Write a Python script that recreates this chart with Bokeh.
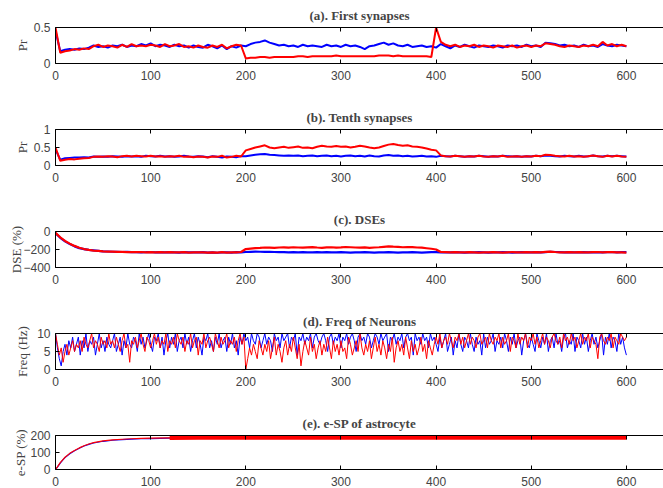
from bokeh.plotting import figure
from bokeh.layouts import column
from bokeh.models import Range1d, FixedTicker, LinearAxis, CustomLabelingPolicy
from bokeh.embed import file_html
from bokeh.resources import INLINE

# ---------------- data ----------------
t5 = list(range(0, 601, 5))
t2 = list(range(0, 601, 2))
x_ticks = [0, 100, 200, 300, 400, 500, 600]

pr1_blue = [
    0.45, 0.17, 0.19, 0.20, 0.19, 0.21, 0.20, 0.22, 0.25, 0.23,
    0.24, 0.22, 0.25, 0.24, 0.26, 0.23, 0.25, 0.24, 0.27, 0.25,
    0.28, 0.24, 0.26, 0.25, 0.23, 0.26, 0.24, 0.25, 0.22, 0.25,
    0.23, 0.22, 0.26, 0.24, 0.21, 0.25, 0.20, 0.24, 0.22, 0.25,
    0.24, 0.27, 0.29, 0.30, 0.32, 0.29, 0.27, 0.25, 0.26, 0.24,
    0.25, 0.23, 0.26, 0.24, 0.25, 0.24, 0.23, 0.26, 0.24, 0.25,
    0.23, 0.26, 0.24, 0.25, 0.23, 0.20, 0.24, 0.25, 0.27, 0.29,
    0.26, 0.28, 0.25, 0.24, 0.26, 0.23, 0.24, 0.25, 0.23, 0.24,
    0.22, 0.27, 0.24, 0.21, 0.25, 0.23, 0.26, 0.24, 0.22, 0.25,
    0.24, 0.23, 0.25, 0.24, 0.22, 0.25, 0.24, 0.25, 0.23, 0.26,
    0.24, 0.25, 0.23, 0.29, 0.28, 0.27, 0.25, 0.26, 0.24, 0.25,
    0.23, 0.26, 0.24, 0.25, 0.23, 0.27, 0.25, 0.24, 0.26, 0.25,
    0.24]
pr1_red = [
    0.50, 0.15, 0.17, 0.18, 0.20, 0.19, 0.21, 0.20, 0.24, 0.26,
    0.23, 0.25, 0.24, 0.22, 0.26, 0.23, 0.27, 0.24, 0.25, 0.24,
    0.26, 0.25, 0.23, 0.27, 0.24, 0.25, 0.27, 0.23, 0.24, 0.22,
    0.25, 0.23, 0.22, 0.25, 0.23, 0.26, 0.21, 0.24, 0.26, 0.25,
    0.07, 0.08, 0.08, 0.09, 0.09, 0.08, 0.09, 0.09, 0.09, 0.09,
    0.09, 0.10, 0.10, 0.09, 0.10, 0.10, 0.10, 0.10, 0.10, 0.11,
    0.10, 0.10, 0.10, 0.10, 0.10, 0.10, 0.10, 0.10, 0.11, 0.11,
    0.11, 0.10, 0.11, 0.10, 0.10, 0.10, 0.10, 0.10, 0.10, 0.09,
    0.50, 0.30, 0.26, 0.24, 0.26, 0.23, 0.25, 0.24, 0.26, 0.23,
    0.25, 0.24, 0.22, 0.25, 0.24, 0.23, 0.25, 0.22, 0.24, 0.25,
    0.23, 0.25, 0.24, 0.28, 0.27, 0.26, 0.24, 0.23, 0.25, 0.24,
    0.23, 0.25, 0.24, 0.26, 0.24, 0.30, 0.25, 0.27, 0.24, 0.26,
    0.24]

pr10_blue = [
    0.45, 0.16, 0.20, 0.21, 0.22, 0.22, 0.23, 0.22, 0.25, 0.24,
    0.25, 0.24, 0.26, 0.25, 0.24, 0.26, 0.25, 0.26, 0.24, 0.27,
    0.26, 0.25, 0.27, 0.25, 0.26, 0.24, 0.25, 0.27, 0.25, 0.24,
    0.26, 0.25, 0.23, 0.26, 0.24, 0.22, 0.25, 0.24, 0.23, 0.26,
    0.26, 0.28, 0.30, 0.31, 0.32, 0.30, 0.29, 0.28, 0.27, 0.28,
    0.27, 0.28, 0.26, 0.27, 0.28, 0.26, 0.27, 0.28, 0.26, 0.27,
    0.25, 0.27, 0.28, 0.26, 0.27, 0.25, 0.28, 0.26, 0.25, 0.28,
    0.29, 0.27, 0.28, 0.26, 0.27, 0.25, 0.26, 0.27, 0.25, 0.26,
    0.24, 0.27, 0.26, 0.25, 0.27, 0.26, 0.24, 0.26, 0.25, 0.27,
    0.26, 0.24, 0.26, 0.25, 0.27, 0.26, 0.25, 0.26, 0.24, 0.26,
    0.25, 0.27, 0.26, 0.28, 0.27, 0.26, 0.25, 0.27, 0.26, 0.25,
    0.27, 0.25, 0.26, 0.28, 0.26, 0.25, 0.27, 0.26, 0.27, 0.26,
    0.25]
pr10_red = [
    0.50, 0.13, 0.16, 0.18, 0.17, 0.19, 0.20, 0.21, 0.24, 0.25,
    0.24, 0.26, 0.25, 0.23, 0.26, 0.27, 0.25, 0.27, 0.26, 0.25,
    0.27, 0.25, 0.26, 0.24, 0.26, 0.25, 0.27, 0.24, 0.25, 0.23,
    0.25, 0.24, 0.22, 0.25, 0.24, 0.27, 0.22, 0.24, 0.27, 0.25,
    0.42, 0.46, 0.50, 0.53, 0.56, 0.50, 0.48, 0.50, 0.52, 0.49,
    0.51, 0.53, 0.49, 0.50, 0.48, 0.52, 0.55, 0.53, 0.52, 0.54,
    0.52, 0.53, 0.50, 0.52, 0.55, 0.53, 0.50, 0.48, 0.50, 0.54,
    0.58, 0.60, 0.57, 0.55, 0.56, 0.53, 0.52, 0.50, 0.47, 0.44,
    0.42, 0.28, 0.26, 0.25, 0.27, 0.26, 0.24, 0.26, 0.25, 0.27,
    0.25, 0.24, 0.26, 0.25, 0.27, 0.24, 0.25, 0.26, 0.24, 0.26,
    0.25, 0.27, 0.26, 0.30, 0.29, 0.27, 0.26, 0.25, 0.27, 0.25,
    0.26, 0.24, 0.26, 0.28, 0.26, 0.24, 0.27, 0.25, 0.27, 0.25,
    0.24]

dse_blue = [
    -20, -70, -110, -140, -165, -185, -195, -205, -210, -215,
    -220, -222, -225, -226, -228, -227, -230, -229, -231, -230,
    -228, -232, -230, -233, -229, -231, -234, -230, -232, -231,
    -233, -230, -234, -232, -236, -231, -233, -235, -230, -232,
    -228, -226, -224, -225, -227, -226, -228, -230, -229, -231,
    -230, -232, -229, -231, -233, -230, -232, -229, -231, -233,
    -230, -232, -234, -231, -233, -230, -232, -234, -231, -233,
    -230, -232, -235, -231, -233, -230, -232, -234, -231, -229,
    -230, -232, -231, -233, -230, -232, -234, -231, -233, -230,
    -232, -234, -231, -233, -230, -232, -234, -231, -230, -232,
    -231, -229, -233, -230, -225, -228, -230, -232, -229, -231,
    -233, -230, -232, -229, -231, -233, -230, -228, -231, -229,
    -230]
dse_red = [
    -15, -65, -105, -135, -160, -180, -195, -205, -212, -215,
    -220, -223, -224, -227, -226, -229, -228, -230, -228, -231,
    -229, -231, -230, -232, -230, -233, -231, -230, -234, -231,
    -232, -231, -235, -233, -234, -230, -235, -233, -231, -228,
    -195, -190, -185, -182, -178, -180, -183, -178, -176, -180,
    -175, -178, -180, -176, -174, -178, -181, -177, -175, -179,
    -176, -172, -175, -178, -180, -177, -182, -178, -175, -170,
    -165, -168, -170, -175, -172, -174, -178, -180, -186, -192,
    -200, -228, -230, -232, -229, -231, -233, -230, -232, -234,
    -231, -233, -230, -232, -234, -231, -229, -232, -233, -230,
    -232, -229, -231, -226, -224, -228, -231, -233, -230, -232,
    -229, -231, -233, -230, -228, -232, -230, -229, -233, -231,
    -235]

freq_blue = [
    10, 6, 3, 1, 5, 7, 4, 8, 6, 9,
    5, 7, 9, 4, 8, 6, 10, 5, 8, 7,
    9, 4, 7, 10, 6, 8, 5, 9, 7, 6,
    8, 10, 5, 7, 9, 4, 8, 6, 10, 7,
    6, 9, 8, 5, 10, 7, 9, 6, 8, 10,
    7, 5, 9, 8, 10, 6, 9, 4, 8, 10,
    6, 9, 7, 10, 5, 8, 9, 6, 10, 7,
    9, 5, 8, 10, 6, 9, 7, 4, 9, 8,
    10, 6, 8, 5, 9, 7, 10, 6, 8, 9,
    5, 9, 7, 10, 6, 8, 4, 9, 7, 10,
    8, 9, 6, 10, 8, 7, 10, 9, 6, 8,
    10, 7, 9, 8, 5, 10, 8, 9, 6, 10,
    8, 9, 10, 6, 9, 8, 10, 4, 9, 8,
    10, 7, 9, 8, 10, 6, 9, 10, 8, 7,
    9, 10, 8, 5, 9, 10, 7, 9, 8, 10,
    6, 9, 8, 10, 7, 9, 10, 8, 5, 9,
    10, 8, 9, 7, 10, 9, 6, 8, 10, 9,
    7, 10, 8, 9, 10, 5, 9, 8, 10, 7,
    9, 8, 10, 6, 9, 10, 8, 9, 4, 10,
    8, 9, 7, 10, 8, 9, 6, 10, 8, 9,
    7, 5, 9, 6, 8, 10, 5, 7, 9, 4,
    8, 6, 10, 7, 5, 9, 8, 6, 10, 7,
    5, 9, 7, 8, 4, 10, 6, 9, 7, 8,
    10, 5, 8, 7, 9, 6, 10, 8, 5, 9,
    7, 10, 6, 8, 9, 4, 8, 10, 7, 6,
    9, 7, 5, 10, 8, 6, 9, 7, 10, 5,
    8, 9, 6, 10, 7, 8, 5, 9, 10, 6,
    8, 7, 10, 5, 9, 8, 6, 10, 7, 9,
    5, 8, 10, 7, 9, 6, 8, 10, 4, 9,
    7, 10, 6, 9, 8, 5, 10, 7, 9, 6,
    4]
freq_red = [
    10, 7, 4, 6, 2, 5, 7, 4, 6, 8,
    5, 7, 6, 8, 5, 9, 7, 6, 8, 10,
    6, 8, 7, 5, 9, 7, 8, 6, 10, 7,
    8, 6, 9, 7, 5, 8, 10, 6, 7, 2,
    8, 7, 9, 6, 8, 10, 7, 5, 9, 8,
    6, 8, 10, 7, 9, 6, 8, 7, 10, 5,
    8, 7, 9, 6, 10, 8, 7, 9, 5, 8,
    7, 10, 6, 8, 9, 4, 8, 7, 10, 6,
    8, 9, 7, 5, 10, 8, 6, 9, 7, 8,
    10, 6, 8, 7, 9, 5, 8, 10, 7, 9,
    0, 3, 6, 4, 7, 5, 3, 8, 6, 4,
    7, 5, 8, 3, 6, 9, 4, 7, 5, 2,
    6, 8, 4, 7, 5, 9, 6, 3, 7, 1,
    5, 8, 6, 4, 9, 5, 7, 3, 6, 8,
    4, 7, 5, 9, 6, 3, 8, 5, 7, 4,
    8, 5, 6, 3, 9, 7, 4, 6, 8, 5,
    10, 6, 4, 7, 5, 8, 3, 6, 9, 5,
    7, 4, 8, 6, 3, 7, 5, 9, 2, 6,
    8, 5, 7, 4, 9, 6, 3, 8, 5, 7,
    4, 6, 9, 5, 7, 3, 8, 6, 4, 7,
    9, 7, 10, 6, 8, 9, 7, 10, 8, 6,
    9, 8, 10, 7, 9, 6, 8, 10, 7, 9,
    8, 6, 9, 10, 7, 8, 9, 6, 10, 8,
    7, 9, 8, 10, 6, 9, 7, 8, 10, 5,
    9, 8, 6, 10, 7, 9, 8, 10, 6, 9,
    8, 10, 7, 9, 6, 8, 10, 7, 9, 8,
    6, 9, 10, 8, 7, 9, 6, 10, 8, 9,
    7, 10, 8, 9, 6, 8, 10, 7, 9, 8,
    10, 6, 9, 8, 7, 3, 9, 10, 8, 7,
    9, 8, 10, 6, 9, 8, 7, 10, 9, 8,
    9]

t_esp = [0, 2, 5, 8, 10, 15, 20, 25, 30, 35, 40, 50, 60, 70, 80, 90, 100,
         120, 150, 200, 250, 300, 350, 400, 450, 500, 550, 600]
esp_blue = [0, 14, 38, 58, 70, 93, 110, 125, 138, 148, 156, 166, 172, 176,
            179, 181, 182, 184, 186, 186, 186, 186, 186, 186, 186, 186, 186, 186]
esp_red = [0, 15, 40, 60, 72, 95, 112, 127, 140, 150, 158, 168, 174, 178,
           181, 183, 184, 186, 187, 187, 187, 187, 187, 187, 187, 187, 187, 187]

BLUE = "#0000ff"
RED = "#ff0000"
SERIF = "Liberation Serif"
SANS = "Liberation Sans"

HIDE_LABELS = CustomLabelingPolicy(
    code="for (const i of Array.from(indices)) { indices.unset(i) }")


def make_panel(title, ylabel, yr, yticks, lab_standoff, height, bottom):
    p = figure(width=663, height=height, x_range=Range1d(0, 639),
               y_range=Range1d(*yr), output_backend="svg",
               toolbar_location=None, min_border_left=55,
               min_border_right=0, min_border_top=27,
               min_border_bottom=bottom, outline_line_color=None,
               background_fill_color="white", border_fill_color="white")
    p.grid.visible = False
    p.title.text = title
    p.title.align = "center"
    p.title.text_font = SERIF
    p.title.text_font_style = "bold"
    p.title.text_font_size = "13px"
    p.title.standoff = 10

    xa = p.xaxis[0]
    xa.ticker = FixedTicker(ticks=x_ticks)
    xa.major_tick_in = 4
    xa.major_tick_out = 0
    xa.minor_tick_line_color = None
    xa.major_label_standoff = 7
    xa.major_label_text_font = SANS
    xa.major_label_text_font_size = "12px"
    xa.axis_line_color = "black"

    ya = p.yaxis[0]
    ya.ticker = FixedTicker(ticks=yticks)
    ya.major_tick_in = 4
    ya.major_tick_out = 0
    ya.minor_tick_line_color = None
    ya.major_label_standoff = 5
    ya.major_label_text_font = SANS
    ya.major_label_text_font_size = "12px"
    ya.axis_label = ylabel
    ya.axis_label_text_font = SERIF
    ya.axis_label_text_font_style = "normal"
    ya.axis_label_text_font_size = "13px"
    ya.axis_label_standoff = lab_standoff

    top = LinearAxis(ticker=FixedTicker(ticks=x_ticks), major_tick_in=4,
                     major_tick_out=0, minor_tick_line_color=None,
                     major_label_policy=HIDE_LABELS,
                     major_label_text_font_size="0px", major_label_standoff=0,
                     axis_line_color="black")
    p.add_layout(top, "above")
    return p


p1 = make_panel("(a). First synapses", "Pr", (0, 0.5), [0, 0.5], 1, 102, 39)
p1.line(t5, pr1_blue, color=BLUE, line_width=2)
p1.line(t5, pr1_red, color=RED, line_width=2)

p2 = make_panel("(b). Tenth synapses", "Pr", (0, 1), [0, 0.5, 1], 1, 102, 39)
p2.line(t5, pr10_blue, color=BLUE, line_width=2)
p2.line(t5, pr10_red, color=RED, line_width=2)

p3 = make_panel("(c). DSEs", "DSE (%)", (-400, 0), [-400, -200, 0], -4, 102, 39)
p3.line(t5, dse_blue, color=BLUE, line_width=2.2)
p3.line(t5, dse_red, color=RED, line_width=2.2)

p4 = make_panel("(d). Freq of Neurons", "Freq (Hz)", (0, 10), [0, 5, 10], 4, 102, 39)
p4.line(t2, freq_blue, color=BLUE, line_width=1)
p4.line(t2, freq_red, color=RED, line_width=1)

p5 = make_panel("(e). e-SP of astrocyte", "e-SP (%)", (0, 200), [0, 100, 200], -1, 80, 17)
p5.line(t_esp, esp_blue, color=BLUE, line_width=1.2)
p5.line(t_esp, esp_red, color=RED, line_width=1.2)
p5.line(t_esp[17:], esp_red[17:], color=RED, line_width=4)

layout = column(p1, p2, p3, p4, p5, spacing=0)

open("out.html", "w").write(file_html(layout, INLINE))
